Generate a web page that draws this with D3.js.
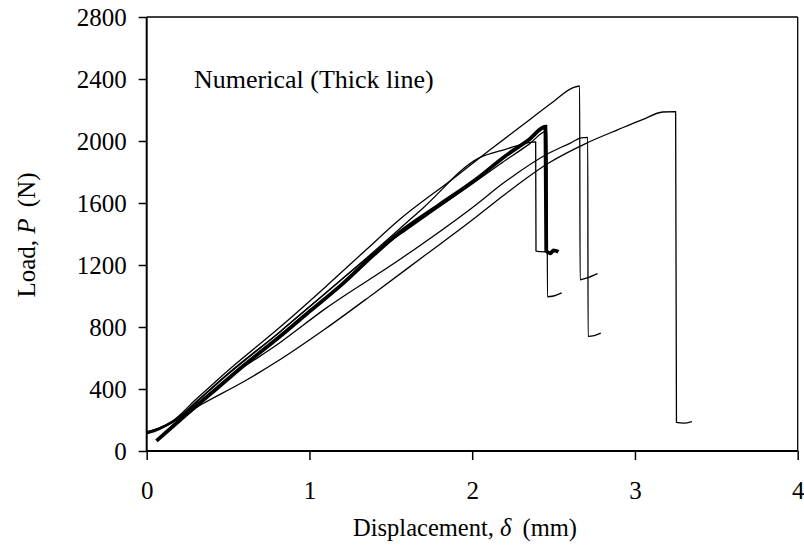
<!doctype html>
<html>
<head>
<meta charset="utf-8">
<script src="https://d3js.org/d3.v7.min.js"></script>
<style>
body { margin: 0; background: #fff; }
text { font-family: 'Liberation Serif', 'Times New Roman', serif; fill: #000; }
</style>
</head>
<body>
<div id="chart"></div>
<script>
// tick values
var xTicks = [0, 1, 2, 3, 4];
var yTicks = [0, 400, 800, 1200, 1600, 2000, 2400, 2800];

// experimental curves (thin), displacement in mm, load in N
var expA_d = [0, 0.08, 0.16, 0.3, 0.5, 0.82, 1.1, 1.35, 1.55, 1.88, 2.1, 2.3, 2.5, 2.62, 2.66, 2.663, 2.7, 2.77];
var expA_p = [120, 150, 195, 330, 520, 800, 1060, 1300, 1490, 1755, 1935, 2095, 2255, 2345, 2355, 1105, 1115, 1145];

var expB_d = [0, 0.08, 0.16, 0.35, 0.6, 0.82, 1.1, 1.4, 1.7, 2.0, 2.2, 2.47, 2.7, 2.9, 3.05, 3.17, 3.25, 3.255, 3.3, 3.35];
var expB_p = [120, 150, 190, 308, 450, 590, 790, 1020, 1255, 1490, 1655, 1858, 1985, 2075, 2140, 2187, 2190, 185, 180, 190];

var expC_d = [0, 0.08, 0.16, 0.3, 0.5, 0.82, 1.1, 1.55, 2.0, 2.2, 2.47, 2.6, 2.67, 2.71, 2.712, 2.75, 2.79];
var expC_p = [115, 145, 185, 300, 470, 700, 920, 1232, 1570, 1735, 1921, 1985, 2020, 2024, 740, 745, 761];

var expD_d = [0, 0.08, 0.16, 0.3, 0.5, 0.82, 1.1, 1.4, 1.7, 2.04, 2.2, 2.39, 2.392, 2.45];
var expD_p = [125, 150, 190, 315, 500, 770, 1020, 1290, 1570, 1890, 1945, 1995, 1290, 1285];

var expE_d = [0, 0.08, 0.16, 0.3, 0.5, 0.82, 1.1, 1.4, 1.6, 1.9, 2.17, 2.35, 2.46, 2.462, 2.5, 2.55];
var expE_p = [110, 140, 185, 310, 495, 770, 1020, 1280, 1430, 1650, 1850, 1980, 2065, 995, 1000, 1020];

// numerical curve (thick)
var num_d = [0.06, 0.2, 0.4, 0.6, 0.82, 1.0, 1.2, 1.4, 1.55, 1.8, 2.02, 2.2, 2.35, 2.45, 2.455, 2.48, 2.5, 2.53];
var num_p = [65, 195, 375, 555, 740, 900, 1075, 1270, 1406, 1590, 1750, 1900, 2010, 2092, 1290, 1275, 1295, 1285];

var width = 804, height = 551;
var pLeft = 146.7, pRight = 797.7, pTop = 17, pBottom = 451;

var svg = d3.select("#chart").append("svg")
  .attr("width", width)
  .attr("height", height);

var x = d3.scaleLinear().domain([0, 4]).range([pLeft, pRight]);
var y = d3.scaleLinear().domain([0, 2800]).range([pBottom, pTop]);

function pts(ds, ps) {
  return ds.map(function(d, i) { return [d, ps[i]]; });
}

var line = d3.line()
  .curve(d3.curveMonotoneX)
  .x(function(d) { return x(d[0]); })
  .y(function(d) { return y(d[1]); });

// box top and right
svg.append("line").attr("x1", pLeft).attr("x2", pRight).attr("y1", pTop).attr("y2", pTop)
  .attr("stroke", "#000").attr("stroke-width", 1.3);
svg.append("line").attr("x1", pRight).attr("x2", pRight).attr("y1", pTop).attr("y2", pBottom)
  .attr("stroke", "#000").attr("stroke-width", 1.3);

// curves
var thin = [pts(expA_d, expA_p), pts(expB_d, expB_p), pts(expC_d, expC_p), pts(expD_d, expD_p), pts(expE_d, expE_p)];
svg.selectAll(".exp")
  .data(thin)
  .enter().append("path")
  .attr("class", "exp")
  .attr("d", line)
  .attr("fill", "none")
  .attr("stroke", "#000")
  .attr("stroke-width", 1.3)
  .attr("stroke-linejoin", "round");

svg.append("path")
  .attr("d", line(pts(num_d, num_p)))
  .attr("fill", "none")
  .attr("stroke", "#000")
  .attr("stroke-width", 3.8)
  .attr("stroke-linejoin", "miter");

// axes
var xAxis = svg.append("g")
  .attr("transform", "translate(0," + pBottom + ")")
  .call(d3.axisBottom(x).tickValues(xTicks).tickFormat(d3.format("d")).tickSize(9).tickPadding(21));
var yAxis = svg.append("g")
  .attr("transform", "translate(" + pLeft + ",0)")
  .call(d3.axisLeft(y).tickValues(yTicks).tickFormat(d3.format("d")).tickSize(8).tickPadding(12));

[xAxis, yAxis].forEach(function(g) {
  g.select(".domain").attr("stroke-width", 2);
  g.selectAll(".tick line").attr("stroke-width", 1.5);
  g.selectAll("text").style("font-family", "'Liberation Serif', serif").style("font-size", "25px");
});
xAxis.select(".domain").attr("d", "M" + pLeft + ",0H" + pRight);
yAxis.select(".domain").attr("d", "M0," + pBottom + "V" + pTop);

// annotation
svg.append("text")
  .attr("x", 194)
  .attr("y", 88)
  .style("font-size", "26px")
  .text("Numerical (Thick line)");

// axis titles
var xt = svg.append("text")
  .attr("x", 465)
  .attr("y", 536)
  .attr("text-anchor", "middle")
  .style("font-size", "24.5px");
xt.append("tspan").text("Displacement, ");
xt.append("tspan").style("font-style", "italic").text("δ");
xt.append("tspan").attr("dx", 5).text(" (mm)");

var yt = svg.append("text")
  .attr("transform", "translate(35,235) rotate(-90)")
  .attr("text-anchor", "middle")
  .style("font-size", "25px");
yt.append("tspan").text("Load, ");
yt.append("tspan").style("font-style", "italic").text("P");
yt.append("tspan").attr("dx", 5).text(" (N)");
</script>
</body>
</html>
